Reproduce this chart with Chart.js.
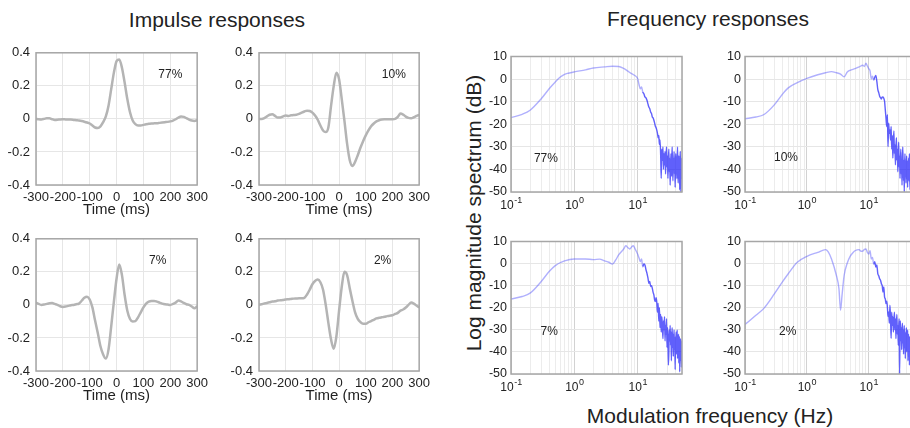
<!DOCTYPE html>
<html>
<head>
<meta charset="utf-8">
<script src="https://cdn.jsdelivr.net/npm/chart.js@4.4.0/dist/chart.umd.min.js"></script>
<style>
  html, body { margin: 0; padding: 0; overflow: hidden; background: #fff; }
  body { width: 910px; height: 428px; position: relative; font-family: "Liberation Sans", Arial, sans-serif; color: #222; }
  .lbl { position: absolute; white-space: nowrap; font-size: 21px; line-height: 24px; }
  canvas { position: absolute; }
</style>
</head>
<body>
<div class="lbl" style="left:217px;top:8px;transform:translateX(-50%)">Impulse responses</div>
<div class="lbl" style="left:708px;top:7px;transform:translateX(-50%)">Frequency responses</div>
<div class="lbl" style="left:474px;top:213px;transform:translate(-50%,-50%) rotate(-90deg)">Log magnitude spectrum (dB)</div>
<div class="lbl" style="left:710px;top:404px;transform:translateX(-50%)">Modulation frequency (Hz)</div>
<script>
// impulse responses, time axis in ms
const timeMs = [-300,-290,-280,-270,-260,-250,-240,-230,-220,-210,-200,-190,-180,-170,-160,-150,-140,-130,-120,-110,-100,-90,-80,-70,-60,-50,-40,-30,-20,-10,0,10,20,30,40,50,60,70,80,90,100,110,120,130,140,150,160,170,180,190,200,210,220,230,240,250,260,270,280,290,300]

const impulse77 = [0.000,-0.002,-0.003,0.000,0.004,0.004,-0.002,-0.006,-0.005,-0.003,-0.002,-0.003,-0.004,-0.004,-0.006,-0.008,-0.010,-0.013,-0.017,-0.022,-0.028,-0.040,-0.052,-0.055,-0.045,-0.020,0.015,0.080,0.180,0.280,0.350,0.360,0.310,0.220,0.120,0.040,-0.010,-0.032,-0.040,-0.040,-0.036,-0.032,-0.030,-0.028,-0.027,-0.026,-0.024,-0.022,-0.020,-0.018,-0.015,-0.010,-0.002,0.008,0.014,0.012,0.004,-0.004,-0.010,-0.012,-0.008]
const impulse10 = [0.000,0.000,0.005,0.015,0.025,0.028,0.018,0.008,0.008,0.015,0.020,0.018,0.022,0.024,0.025,0.030,0.038,0.045,0.050,0.048,0.038,0.020,-0.005,-0.040,-0.070,-0.080,-0.050,0.080,0.200,0.280,0.240,0.120,-0.010,-0.150,-0.250,-0.285,-0.260,-0.220,-0.175,-0.135,-0.100,-0.070,-0.045,-0.028,-0.015,-0.008,-0.004,-0.002,-0.002,-0.002,-0.002,0.000,0.012,0.032,0.026,0.014,0.006,0.004,0.010,0.018,0.024]
const impulse7 = [0.014,0.006,0.000,0.002,0.006,0.010,0.012,0.006,0.000,-0.008,-0.012,-0.010,-0.006,-0.002,0.000,0.004,0.008,0.025,0.043,0.050,0.033,-0.015,-0.095,-0.170,-0.250,-0.300,-0.325,-0.270,-0.130,0.020,0.160,0.245,0.180,0.060,-0.035,-0.085,-0.100,-0.098,-0.075,-0.045,-0.015,0.008,0.020,0.024,0.024,0.020,0.014,0.008,0.004,0.002,0.000,0.006,0.014,0.027,0.022,0.012,0.004,0.000,-0.010,-0.020,-0.008]
const impulse2 = [0.000,0.004,0.008,0.012,0.016,0.020,0.022,0.026,0.028,0.030,0.033,0.034,0.036,0.038,0.039,0.040,0.040,0.043,0.063,0.092,0.125,0.145,0.153,0.137,0.092,0.000,-0.110,-0.210,-0.265,-0.190,-0.035,0.110,0.200,0.180,0.100,0.024,-0.045,-0.085,-0.104,-0.114,-0.114,-0.105,-0.098,-0.090,-0.082,-0.078,-0.075,-0.072,-0.068,-0.065,-0.063,-0.055,-0.048,-0.035,-0.028,-0.016,0.000,0.014,0.008,-0.004,-0.016]

// frequency responses (Hz, dB): smooth low part + noisy band above 20 Hz
const bandHz = [20.5,21,21.5,22,22.5,23,23.5,24,24.5,25,25.5,26,26.5,27,27.5,28,28.5,29,29.5,30,30.5,31,31.5,32,32.5,33,33.5,34,34.5,35,35.5,36,36.5,37,37.5,38,38.5,39,39.5,40,40.5,41,41.5,42,42.5,43,43.5,44,44.5,45,45.5,46,46.5,47,47.5,48,48.5,49,49.5,50]

const lowHz77 = [0.1,0.15,0.2,0.3,0.4,0.5,0.6,0.7,0.8,1,1.5,2,3,4,5,6,7,8,9,10,10.5,11,11.5,12,12.5,13,13.5,14,14.5,15,15.5,16,16.5,17,17.5,18,18.5,19,19.5,20]
const lowDb77 = [-17.1,-15.6,-13.8,-8.7,-4.3,-1.3,0.9,2.1,2.6,3.2,4.1,4.9,5.4,5.7,5.6,4.7,3.5,2.4,1.6,0.1,-2.5,-4.3,-3.5,-5.7,-6.5,-7.9,-8.3,-9.4,-11,-12.4,-13.1,-14.6,-15.2,-16.8,-17.2,-18.2,-19.5,-20.9,-21.5,-22.6]
const bandDb77 = [-24,-26,-25,-29,-27,-33,-44,-31,-36,-30,-40,-33,-38,-32,-42,-35,-30,-39,-34,-44,-36,-31,-41,-35,-47,-38,-33,-43,-36,-30,-40,-45,-35,-39,-32,-42,-37,-48,-36,-33,-41,-38,-44,-35,-30,-40,-46,-37,-34,-43,-38,-49,-36,-32,-42,-50,-39,-35,-44,-40]

const lowHz10 = [0.1,0.15,0.2,0.3,0.4,0.5,0.7,1,1.5,2,2.5,3,3.5,4,4.5,5,6,7,8,8.5,9,9.5,10,10.5,11,11.5,12,12.5,13,13.5,14,14.5,15,15.5,16,16.5,17,17.5,18,18.5,19,19.5,20]
const lowDb10 = [-17.6,-16.8,-15.8,-11.3,-6.8,-3.9,-1.6,0.3,1.9,2.8,3.3,2.8,2.2,1.0,3.1,3.9,4.6,5.4,6.1,5.6,7.0,5.8,4.6,3.6,0.1,1.3,-0.4,0.8,1.6,-0.9,-4.6,-6,-7.6,-8.2,-8.8,-8,-7.9,-8.5,-9.8,-13.5,-17.3,-21,-15.8]
const bandDb10 = [-29.9,-19.5,-24,-22.5,-27,-21,-31,-25,-35,-28,-23,-33,-29,-38,-30,-26,-36,-31,-41,-33,-28,-39,-34,-44,-36,-31,-42,-37,-47,-35,-30,-40,-45,-36,-50,-38,-33,-43,-37,-46,-39,-34,-44,-38,-48,-36,-41,-35,-45,-39,-33,-43,-49,-37,-42,-35,-46,-40,-36,-44]

const lowHz7 = [0.1,0.15,0.2,0.3,0.4,0.5,0.7,1,1.5,2,2.5,3,3.5,4,4.5,5,6,6.5,7,7.5,8,8.5,9,9.5,10,10.5,11,11.5,12,12.5,13,13.5,14,14.5,15,15.5,16,16.5,17,17.5,18,18.5,19,19.5,20]
const lowDb7 = [-16,-14.9,-13.4,-8.1,-3.6,-0.9,1.2,2.1,2.1,1.8,2.0,1.2,0.6,-0.2,1.7,3.9,6.6,8.1,7.2,6.6,7.5,8.1,6.9,5.6,4.2,2.5,0.9,2.1,-1.4,-0.2,-0.6,-2.8,-4.4,-6.5,-8.9,-8.1,-10.4,-10,-11.2,-13,-14.2,-16.5,-17.2,-15.5,-17.5]
const bandDb7 = [-22,-18,-26,-20,-29,-23,-31,-24,-28,-34,-26,-30,-24,-35,-28,-32,-25,-38,-29,-33,-46,-40,-30,-35,-28,-37,-31,-44,-33,-29,-38,-32,-42,-34,-30,-39,-35,-48,-33,-37,-31,-41,-36,-30,-43,-35,-39,-32,-45,-37,-33,-49,-36,-41,-34,-44,-38,-47,-35,-40]

const lowHz2 = [0.1,0.15,0.2,0.3,0.4,0.5,0.7,1,1.5,2,2.2,2.5,3,3.3,3.5,3.7,4,4.5,5,5.5,6,7,7.5,8,8.5,9,9.5,10,10.5,11,11.5,12,12.5,13,13.5,14,14.5,15,15.5,16,16.5,17,17.5,18,18.5,19,19.5,20]
const lowDb2 = [-27.6,-23.4,-20.4,-13.6,-8.4,-4.6,0.6,3.3,5.1,6.3,5.4,2.1,-5.4,-11.4,-21.1,-14.4,-5.4,0.3,3.3,4.8,5.8,6.3,5.6,5.7,6.4,6.6,5.1,4.3,5.8,2.1,2.8,-0.2,0.8,-1.6,-0.6,-4.6,-5.5,-6.9,-7.5,-9.1,-10,-12.9,-10.6,-15.1,-16,-18.1,-17,-19.6]
const bandDb2 = [-24,-21.9,-27,-18.9,-25,-33.9,-22,-28,-24,-31,-26,-22,-30,-25,-34,-27,-23,-32,-28,-37,-29,-25,-50,-30,-26,-35,-29,-39,-31,-27,-36,-30,-41,-32,-28,-38,-33,-43,-31,-36,-29,-40,-34,-38,-30,-44,-35,-32,-41,-36,-46,-33,-39,-35,-43,-37,-31,-42,-36,-40]

// log grid lines and decade labels
const gridHz = [0.1,0.2,0.3,0.4,0.5,0.6,0.7,0.8,0.9,1,2,3,4,5,6,7,8,9,10,20,30,40,50]
const decadeHz = [0.1, 1, 10]
const decadeExp = ["-1", "0", "1"]

const fontFamily = "'Liberation Sans', Arial, sans-serif"
Chart.defaults.font.family = fontFamily
Chart.defaults.color = "#222"

const boxPlugin = {
  id: "box",
  afterDraw(chart) {
    const {ctx, chartArea: {left, top, width, height}} = chart
    ctx.save()
    ctx.strokeStyle = "#a6a6a6"
    ctx.lineWidth = 1.5
    ctx.strokeRect(left, top, width, height)
    ctx.restore()
  }
}

const notePlugin = {
  id: "note",
  afterDraw(chart, args, opts) {
    const {ctx, scales: {x, y}} = chart
    ctx.save()
    ctx.font = "12px " + fontFamily
    ctx.fillStyle = "#222"
    ctx.textAlign = "center"
    ctx.textBaseline = "middle"
    ctx.fillText(opts.text, x.getPixelForValue(opts.x), y.getPixelForValue(opts.y))
    ctx.restore()
  }
}

const decadePlugin = {
  id: "decades",
  afterDraw(chart, args, opts) {
    if (!opts.show) { return }
    const {ctx, chartArea, scales: {x}} = chart
    ctx.save()
    ctx.fillStyle = "#222"
    ctx.textBaseline = "middle"
    ctx.textAlign = "left"
    decadeHz.forEach((v, i) => {
      let px = x.getPixelForValue(v)
      ctx.font = "12px " + fontFamily
      let w1 = ctx.measureText("10").width
      ctx.font = "9px " + fontFamily
      let w2 = ctx.measureText(decadeExp[i]).width
      let x0 = px - (w1 + w2) / 2
      let y0 = chartArea.bottom + 14
      ctx.font = "12px " + fontFamily
      ctx.fillText("10", x0, y0)
      ctx.font = "9px " + fontFamily
      ctx.fillText(decadeExp[i], x0 + w1 + 0.5, y0 - 5)
    })
    ctx.restore()
  }
}

function isDecade(v) {
  let l = Math.log10(v)
  return Math.abs(l - Math.round(l)) < 1e-6
}

function makeCanvas(left, top, w, h) {
  let c = document.createElement("canvas")
  c.width = w
  c.height = h
  c.style.left = left + "px"
  c.style.top = top + "px"
  c.style.width = w + "px"
  c.style.height = h + "px"
  document.body.appendChild(c)
  return c
}

function impulseChart(box, values, note) {
  let ctx = makeCanvas(box.left - 36, box.top - 10, box.w + 50, box.h + 44)
  new Chart(ctx, {
    type: "line",
    data: {
      datasets: [{
        data: timeMs.map((t, i) => ({x: t, y: values[i]})),
        borderColor: "#b4b4b4",
        borderWidth: 2.5,
        pointRadius: 0,
        cubicInterpolationMode: "monotone",
      }]
    },
    options: {
      responsive: false,
      animation: false,
      layout: { padding: { top: 10, right: 14, left: 0, bottom: 0 } },
      scales: {
        x: {
          type: "linear", min: -300, max: 300,
          afterFit(s) { s.height = 34 },
          ticks: { stepSize: 100, autoSkip: false, maxRotation: 0, padding: 5, font: { size: 13 } },
          grid: { color: "#e6e6e6", drawTicks: false },
          border: { display: false },
          title: { display: true, text: "Time (ms)", font: { size: 15 }, padding: 0 },
        },
        y: {
          min: -0.4, max: 0.4,
          afterFit(s) { s.width = 36 },
          ticks: {
            stepSize: 0.2, padding: 6, font: { size: 13 },
            callback: v => Math.abs(v) < 1e-9 ? "0" : String(Math.round(v * 10) / 10),
          },
          grid: { color: "#e6e6e6", drawTicks: false },
          border: { display: false },
        },
      },
      plugins: {
        legend: { display: false },
        tooltip: { enabled: false },
        note: note,
        decades: { show: false },
      },
    },
    plugins: [boxPlugin, notePlugin, decadePlugin]
  })
}

function freqChart(box, lowHz, lowDb, bandDb, note) {
  let hz = lowHz.concat(bandHz)
  let db = lowDb.concat(bandDb)
  let ctx = makeCanvas(box.left - 34, box.top - 10, box.w + 40, box.h + 34)
  new Chart(ctx, {
    type: "line",
    data: {
      datasets: [{
        data: hz.map((f, i) => ({x: f, y: db[i]})),
        borderColor: "rgba(80,80,250,0.45)",
        borderWidth: 1.4,
        pointRadius: 0,
        cubicInterpolationMode: "monotone",
        segment: {
          borderColor: c => c.p0.parsed.x >= 12 ? "rgba(35,35,250,0.72)" : "rgba(80,80,250,0.45)",
        },
      }]
    },
    options: {
      responsive: false,
      animation: false,
      layout: { padding: { top: 10, right: 6, left: 0, bottom: 0 } },
      scales: {
        x: {
          type: "logarithmic", min: 0.1, max: 50,
          afterBuildTicks(s) { s.ticks = gridHz.map(v => ({value: v})) },
          afterFit(s) { s.height = 24 },
          ticks: { display: false },
          grid: { color: c => isDecade(c.tick.value) ? "#d2d2d2" : "#ececec", drawTicks: false },
          border: { display: false },
        },
        y: {
          min: -50, max: 10,
          afterFit(s) { s.width = 34 },
          ticks: { stepSize: 10, padding: 4, font: { size: 12.5 }, callback: v => String(v) },
          grid: { color: "#e6e6e6", drawTicks: false },
          border: { display: false },
        },
      },
      plugins: {
        legend: { display: false },
        tooltip: { enabled: false },
        note: note,
        decades: { show: true },
      },
    },
    plugins: [boxPlugin, notePlugin, decadePlugin]
  })
}

impulseChart({left: 36, top: 49, w: 163, h: 136}, impulse77, {text: "77%", x: 200, y: 0.27})
impulseChart({left: 259, top: 49, w: 162, h: 136}, impulse10, {text: "10%", x: 205, y: 0.27})
impulseChart({left: 36, top: 235, w: 163, h: 136}, impulse7, {text: "7%", x: 153, y: 0.27})
impulseChart({left: 259, top: 235, w: 162, h: 136}, impulse2, {text: "2%", x: 163, y: 0.27})

freqChart({left: 511, top: 55, w: 171, h: 137}, lowHz77, lowDb77, bandDb77, {text: "77%", x: 0.356, y: -35.4})
freqChart({left: 745, top: 55, w: 167, h: 137}, lowHz10, lowDb10, bandDb10, {text: "10%", x: 0.46, y: -35})
freqChart({left: 511, top: 240, w: 171, h: 134}, lowHz7, lowDb7, bandDb7, {text: "7%", x: 0.40, y: -30.7})
freqChart({left: 745, top: 240, w: 167, h: 134}, lowHz2, lowDb2, bandDb2, {text: "2%", x: 0.49, y: -31})
</script>
</body>
</html>
